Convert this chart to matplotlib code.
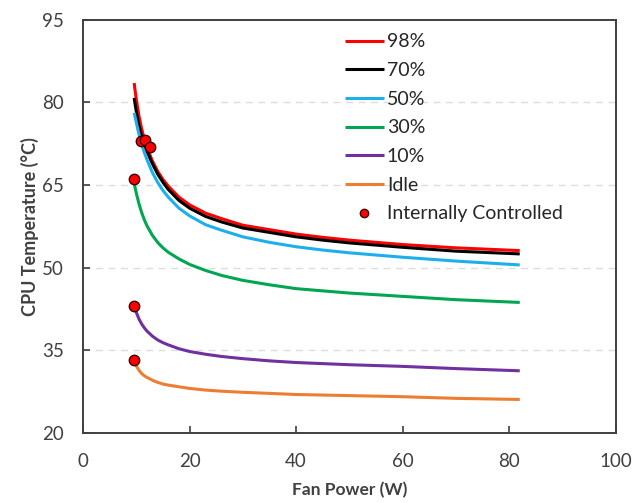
import matplotlib.pyplot as plt

plt.rcParams['font.family'] = ['Lato', 'DejaVu Sans']

# fan power sample points (W)
fan_power = [9.6, 9.8, 10, 10.5, 11, 11.5, 12, 13, 14, 15, 16, 18, 20, 23, 26, 30, 35,
             40, 45, 50, 60, 70, 82]

# CPU temperature (°C) per load level
temp_98 = [83.5, 81.9, 80.5, 77.5, 75.2, 73.3, 71.8, 69.4, 67.5, 66.0, 64.8, 62.8, 61.4,
           59.9, 58.9, 57.7, 56.9, 56.1, 55.5, 55.0, 54.2, 53.6, 53.1]
temp_70 = [80.8, 79.5, 78.3, 75.8, 73.9, 72.4, 71.1, 68.9, 67.0, 65.5, 64.2, 62.2, 60.8,
           59.3, 58.3, 57.2, 56.4, 55.6, 55.0, 54.5, 53.7, 53.0, 52.5]
temp_50 = [78.1, 77.2, 76.3, 74.2, 72.4, 70.9, 69.6, 67.3, 65.5, 64.0, 62.8, 60.8, 59.4,
           57.8, 56.8, 55.6, 54.6, 53.8, 53.2, 52.7, 51.9, 51.2, 50.5]
temp_30 = [65.3, 64.4, 63.5, 61.6, 60.0, 58.7, 57.6, 55.9, 54.6, 53.6, 52.8, 51.6, 50.6,
           49.5, 48.6, 47.7, 46.9, 46.2, 45.8, 45.4, 44.8, 44.2, 43.7]
temp_10 = [43.1, 42.5, 41.9, 40.7, 39.8, 39.1, 38.5, 37.6, 36.9, 36.4, 36.0, 35.3, 34.8,
           34.3, 33.9, 33.5, 33.1, 32.8, 32.6, 32.4, 32.1, 31.7, 31.3]
temp_idle = [33.3, 32.7, 32.2, 31.4, 30.8, 30.4, 30.1, 29.6, 29.2, 28.9, 28.7, 28.4, 28.1,
             27.8, 27.6, 27.4, 27.2, 27.0, 26.9, 26.8, 26.6, 26.3, 26.1]

series_labels = ['98%', '70%', '50%', '30%', '10%', 'Idle']
series_colors = ['#FF0000', '#000000', '#1EAEEB', '#00A651', '#7030A0', '#ED7D31']

# operating points chosen by the internal fan controller
ctrl_power = [9.5, 9.5, 9.5, 10.9, 11.7, 12.5]
ctrl_temp = [66.1, 43.0, 33.3, 73.0, 73.2, 71.9]

fig = plt.figure(figsize=(6.34, 5.03), dpi=100)
ax = fig.add_axes([0.131, 0.139, 0.840, 0.822])

for ys, lab, col in zip([temp_98, temp_70, temp_50, temp_30, temp_10, temp_idle],
                        series_labels, series_colors):
    ax.plot(fan_power, ys, color=col, linewidth=2.2, label=lab, solid_capstyle='butt')

ax.plot(ctrl_power, ctrl_temp, linestyle='none', marker='o', markersize=7.5,
        markerfacecolor='#FF0000', markeredgecolor='#3A0000', markeredgewidth=1.0,
        label='Internally Controlled', zorder=5)

ax.set_xlim(0, 100)
ax.set_ylim(20, 95)
ax.set_xticks([0, 20, 40, 60, 80, 100])
ax.set_yticks([20, 35, 50, 65, 80, 95])
ax.tick_params(direction='in', length=5, width=1.2, color='#404040',
               labelsize=13.5, labelcolor='#404040')
ax.tick_params(axis='x', pad=14)
ax.tick_params(axis='y', pad=14)
for s in ax.spines.values():
    s.set_color('#404040')
    s.set_linewidth(1.4)

for y in [35, 50, 65, 80]:
    ax.axhline(y, color='#DDDDDD', linestyle=(0, (5, 4)), linewidth=1.0, zorder=0)

ax.set_xlabel('Fan Power (W)', fontsize=12.5, fontweight='bold', color='#404040', labelpad=9)
ax.set_ylabel('CPU Temperature (°C)', fontsize=13, fontweight='bold', color='#404040',
              labelpad=2)

leg = ax.legend(loc='upper left', bbox_to_anchor=(0.47, 0.995), frameon=False, fontsize=14,
                handlelength=2.0, handletextpad=0.15, labelspacing=0.60, markerscale=0.8,
                borderaxespad=0.2)
for t in leg.get_texts():
    t.set_color('#262626')

fig.savefig('out.png', dpi=100)
